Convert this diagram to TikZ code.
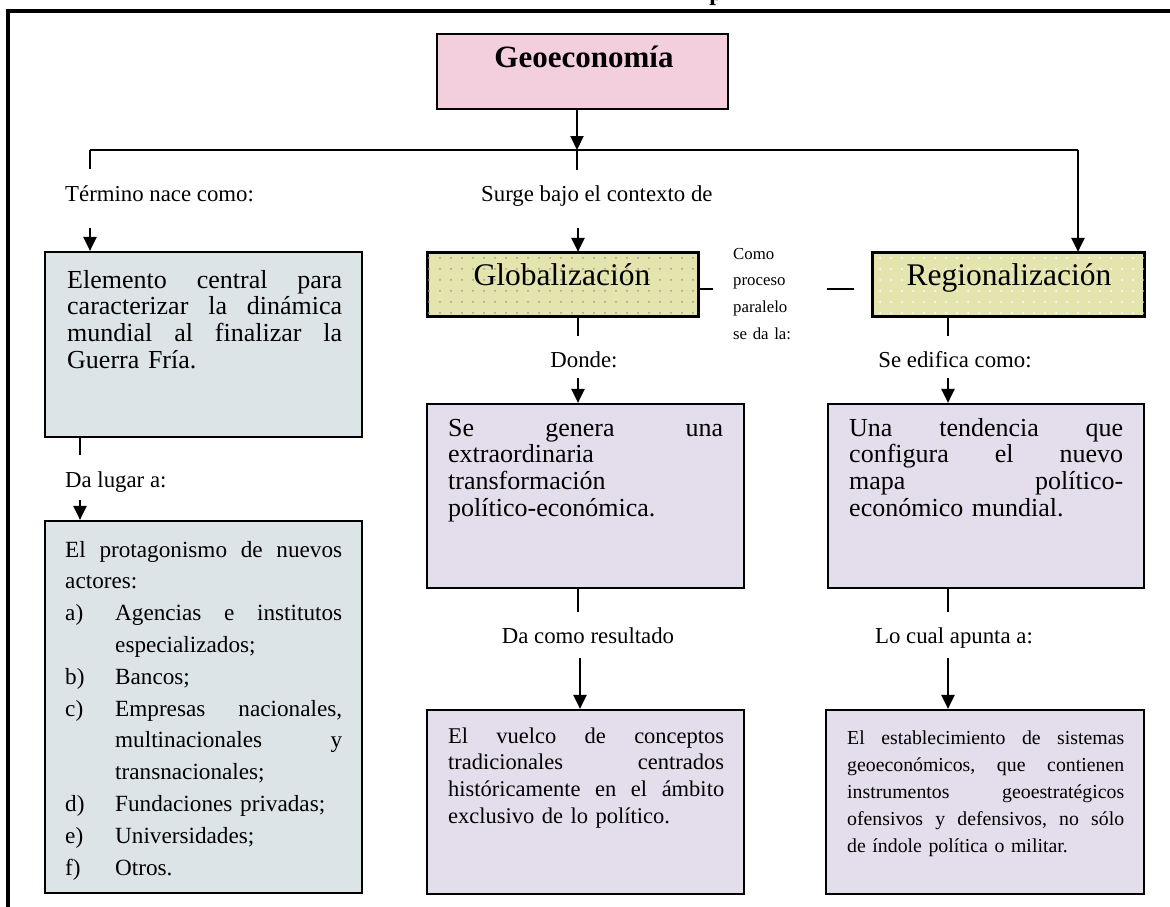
\documentclass[tikz,border=0pt]{standalone}
\usepackage{fontspec}
\setmainfont{Liberation Serif}
\usetikzlibrary{arrows.meta,patterns.meta}
\definecolor{cpink}{RGB}{243,207,222}
\definecolor{cyel}{RGB}{228,228,174}
\definecolor{cgray}{RGB}{221,228,231}
\definecolor{clav}{RGB}{228,222,236}
\definecolor{cdot}{RGB}{160,160,130}
\newcommand\jl[2]{\leavevmode\hbox to #1pt{#2}}
\newcommand\itm[2]{\leavevmode\hbox to 50pt{#1\hfil}#2}
\tikzset{
  boxshape/.style={draw=black, line width=2.2pt, rectangle, inner sep=0pt},
  dotsgray/.style={postaction={pattern={Dots[radius=1pt,distance=11pt]}, pattern color=cdot}},
  dotswhite/.style={postaction={pattern={Dots[radius=1pt,distance=11pt]}, pattern color=white}},
  ln/.style={line width=2.2pt, draw=black},
  arr/.style={line width=2.2pt, draw=black, -{Triangle[width=13pt,length=14pt]}},
  lab/.style={anchor=base, inner sep=0pt, font=\fontsize{22.8}{26}\selectfont},
  txt/.style={anchor=base west, inner sep=0pt, align=left, text width=300pt},
}
\begin{document}
\begin{tikzpicture}[x=1pt,y=-1pt]
\useasboundingbox (0,0) rectangle (1170,907);
% frame
\draw[line width=4pt, line join=miter] (8,930) -- (8,11.3) -- (1190,11.3);
\node[anchor=base, inner sep=0pt, font=\fontsize{24}{24}\selectfont\bfseries] (ttl) at (716,1) {p};
% boxes
\node[boxshape, fill=cpink, minimum width=291pt, minimum height=75pt] (geo) at (582.5,71.5) {};
\node[boxshape, fill=cgray, minimum width=317pt, minimum height=185pt] (elem) at (203.5,344.5) {};
\node[boxshape, fill=cgray, minimum width=317pt, minimum height=372pt] (prot) at (203.5,707) {};
\node[boxshape, fill=cyel, dotsgray, minimum width=270pt, minimum height=63pt] (glob) at (563,284.5) {};
\node[boxshape, fill=cyel, dotswhite, minimum width=271pt, minimum height=63pt] (reg) at (1008.5,284.5) {};
\node[boxshape, fill=clav, minimum width=317pt, minimum height=184pt] (gen) at (585.5,496) {};
\node[boxshape, fill=clav, minimum width=316pt, minimum height=184pt] (tend) at (986,496) {};
\node[boxshape, fill=clav, minimum width=317pt, minimum height=184pt] (vuel) at (585.5,802) {};
\node[boxshape, fill=clav, minimum width=318pt, minimum height=184pt] (estab) at (985,802) {};
\draw[line width=2.2pt] (glob.north west) rectangle (glob.south east);
\draw[line width=2.2pt] (reg.north west) rectangle (reg.south east);
% box titles
\node[anchor=base, inner sep=0pt, font=\fontsize{31}{32}\selectfont\bfseries] (geot) at (584,68) {Geoeconomía};
\node[anchor=base, inner sep=0pt, font=\fontsize{31.5}{32}\selectfont] (globt) at (562,285) {Globalización};
\node[anchor=base, inner sep=0pt, font=\fontsize{31.5}{32}\selectfont] (regt) at (1009,285) {Regionalización};
% box texts
\node[txt, font=\fontsize{26}{26.7}\selectfont] (elemt) at (67,288) {%
\jl{275}{Elemento\hfill central\hfill para}\\
\jl{275}{caracterizar\hfill la\hfill dinámica}\\
\jl{275}{mundial\hfill al\hfill finalizar\hfill la}\\
Guerra Fría.};
\node[txt, font=\fontsize{23.2}{31.8}\selectfont] (prott) at (65,557) {%
\jl{277}{El\hfill protagonismo\hfill de\hfill nuevos}\\
actores:\\
\itm{a)}{\jl{227}{Agencias\hfill e\hfill institutos}}\\
\hspace*{50pt}especializados;\\
\itm{b)}{Bancos;}\\
\itm{c)}{\jl{227}{Empresas\hfill nacionales,}}\\
\hspace*{50pt}\jl{227}{multinacionales\hfill y}\\
\hspace*{50pt}transnacionales;\\
\itm{d)}{Fundaciones privadas;}\\
\itm{e)}{Universidades;}\\
\itm{f)}{Otros.}};
\node[txt, font=\fontsize{26}{26.7}\selectfont] (gent) at (448,436) {%
\jl{275}{Se\hfill genera\hfill una}\\
extraordinaria\\
transformación\\
político-económica.};
\node[txt, font=\fontsize{26}{26.7}\selectfont] (tendt) at (849,436) {%
\jl{274}{Una\hfill tendencia\hfill que}\\
\jl{274}{configura\hfill el\hfill nuevo}\\
\jl{274}{mapa\hfill político-}\\
económico mundial.};
\node[txt, font=\fontsize{22.5}{26.7}\selectfont] (vuelt) at (448,743) {%
\jl{276}{El\hfill vuelco\hfill de\hfill conceptos}\\
\jl{276}{tradicionales\hfill centrados}\\
\jl{276}{históricamente\hfill en\hfill el\hfill ámbito}\\
exclusivo de lo político.};
\node[txt, font=\fontsize{19.8}{27}\selectfont] (estabt) at (847,744) {%
\jl{277}{El\hfill establecimiento\hfill de\hfill sistemas}\\
\jl{277}{geoeconómicos,\hfill que\hfill contienen}\\
\jl{277}{instrumentos\hfill geoestratégicos}\\
\jl{277}{ofensivos\hfill y\hfill defensivos,\hfill no\hfill sólo}\\
de índole política o militar.};
% labels
\node[lab, anchor=base west] (l1) at (65,201) {Término nace como:};
\node[lab, anchor=base west] (l2) at (481,201) {Surge bajo el contexto de};
\node[lab] (l3) at (584,367) {Donde:};
\node[lab] (l4) at (955,367) {Se edifica como:};
\node[lab, anchor=base west] (l5) at (65,487) {Da lugar a:};
\node[lab] (l6) at (588,643) {Da como resultado};
\node[lab] (l7) at (954,643) {Lo cual apunta a:};
\node[txt, text width=60pt, font=\fontsize{16.8}{26.7}\selectfont] (l8) at (733,259) {Como\\ proceso\\ paralelo\\ se da la:};
% junction coordinates
\coordinate (jl) at (90,150);
\coordinate (jm) at (577,150);
\coordinate (jr) at (1078,150);
\coordinate (sl) at (90,169);
\coordinate (sm) at (577,170);
\coordinate (al) at (90,228);
\coordinate (am) at (578,228);
\coordinate (e1) at (80,455);
\coordinate (e2) at (80,500);
\coordinate (g1) at (713,289);
\coordinate (r1) at (827,289);
\coordinate (r2) at (854,289);
\coordinate (g2) at (578,336);
\coordinate (g3) at (578,378);
\coordinate (t2) at (948,336);
\coordinate (t3) at (948,378);
\coordinate (v1) at (578,612);
\coordinate (v2) at (580,658);
\coordinate (s1) at (948,612);
\coordinate (s2) at (948,658);
% connectors
\draw[arr] (geo.south -| jm) -- (jm);
\draw[ln] (jl) -- (jr);
\draw[ln] (jl) -- (sl);
\draw[ln] (jm) -- (sm);
\draw[arr] (jr) -- (jr |- reg.north);
\draw[arr] (al) -- (al |- elem.north);
\draw[arr] (am) -- (am |- glob.north);
\draw[ln] (e1 |- elem.south) -- (e1);
\draw[arr] (e2) -- (e2 |- prot.north);
\draw[ln] (glob.east |- g1) -- (g1);
\draw[ln] (r1) -- (r2);
\draw[ln] (g2 |- glob.south) -- (g2);
\draw[arr] (g3) -- (g3 |- gen.north);
\draw[ln] (t2 |- reg.south) -- (t2);
\draw[arr] (t3) -- (t3 |- tend.north);
\draw[ln] (v1 |- gen.south) -- (v1);
\draw[arr] (v2) -- (v2 |- vuel.north);
\draw[ln] (s1 |- tend.south) -- (s1);
\draw[arr] (s2) -- (s2 |- estab.north);
\end{tikzpicture}
\end{document}
